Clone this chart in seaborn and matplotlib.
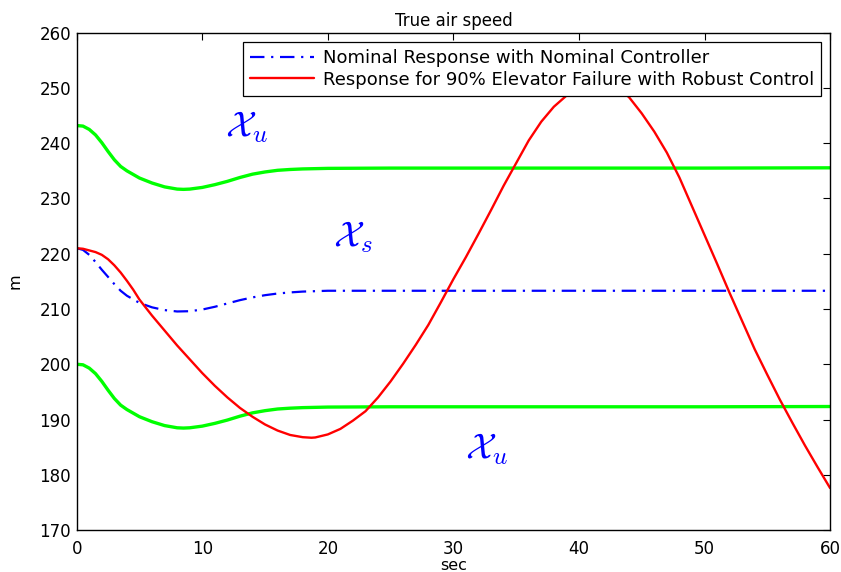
import matplotlib
matplotlib.use("Agg")
import matplotlib.pyplot as plt
import seaborn as sns
import pandas as pd

# ---- data ----
t_green = [0, 0.5, 1, 1.5, 2, 2.5, 3, 3.5, 4, 5, 6, 7, 8, 8.5, 9, 10, 11, 12, 13, 14, 15, 16, 17, 18, 20, 25, 30, 40, 50, 60]
upper_bound = [243.2, 243.1, 242.5, 241.5, 240.1, 238.5, 237.0, 235.8, 235.0, 233.7, 232.8, 232.1, 231.7, 231.65, 231.7,
               232.0, 232.5, 233.1, 233.8, 234.4, 234.8, 235.1, 235.25, 235.35, 235.45, 235.5, 235.5, 235.5, 235.5, 235.55]
lower_bound = [200.0, 199.9, 199.3, 198.3, 196.9, 195.3, 193.8, 192.6, 191.8, 190.5, 189.6, 188.9, 188.5, 188.45, 188.5,
               188.8, 189.3, 189.9, 190.6, 191.2, 191.6, 191.9, 192.05, 192.15, 192.25, 192.3, 192.3, 192.3, 192.3, 192.35]

t_nom = [0, 0.5, 1, 1.5, 2, 2.5, 3, 3.5, 4, 5, 6, 7, 8, 9, 10, 11, 12, 13, 14, 15, 16, 17, 18, 20, 25, 30, 40, 50, 60]
nominal = [221.0, 220.7, 219.8, 218.5, 217.1, 215.8, 214.5, 213.3, 212.4, 211.1, 210.3, 209.8, 209.55, 209.6, 209.9,
           210.4, 211.0, 211.6, 212.1, 212.5, 212.8, 213.0, 213.15, 213.3, 213.3, 213.3, 213.3, 213.3, 213.3]

t_rob = [0, 0.5, 1, 1.5, 2, 2.5, 3, 3.5, 4, 4.5, 5, 6, 7, 8, 9, 10, 11, 12, 13, 14, 15, 16, 17, 18, 18.7, 19, 20, 21,
         22, 23, 24, 25, 26, 27, 28, 29, 30, 31, 32, 33, 34, 35, 36, 37, 38, 39, 39.5, 40, 40.5, 41, 41.5, 42, 42.5,
         43, 43.5, 44, 45, 46, 47, 48, 49, 50, 51, 52, 53, 54, 55, 56, 57, 58, 59, 60]
robust = [221.0, 220.9, 220.6, 220.3, 219.8, 219.0, 217.9, 216.6, 215.1, 213.5, 211.7, 208.8, 206.1, 203.4, 200.9,
          198.4, 196.1, 194.0, 192.1, 190.5, 189.1, 188.0, 187.2, 186.8, 186.7, 186.75, 187.3, 188.3, 189.8, 191.5,
          194.0, 196.9, 200.1, 203.5, 207.1, 211.2, 215.4, 219.4, 223.6, 227.9, 232.3, 236.4, 240.5, 243.9, 246.6,
          248.6, 249.5, 250.3, 250.9, 251.3, 251.4, 251.2, 250.8, 250.2, 249.3, 248.3, 245.4, 242.1, 238.3, 233.8,
          228.6, 223.4, 218.2, 212.9, 207.8, 202.7, 198.1, 193.6, 189.4, 185.3, 181.4, 177.6]

labels = ["Nominal Response with Nominal Controller",
          "Response for 90% Elevator Failure with Robust Control"]
x_ticks = [0, 10, 20, 30, 40, 50, 60]
y_ticks = [170, 180, 190, 200, 210, 220, 230, 240, 250, 260]

sns.set_style("white")
plt.rcParams['font.family'] = ['DejaVu Sans']
plt.rcParams['mathtext.fontset'] = 'cm'
plt.rcParams['text.color'] = 'black'
plt.rcParams['axes.labelcolor'] = 'black'
plt.rcParams['xtick.color'] = 'black'
plt.rcParams['ytick.color'] = 'black'

fig = plt.figure(figsize=(8.41, 5.72), dpi=100)
ax = fig.add_axes([0.0912, 0.0734, 0.8958, 0.8694])

df_g = pd.DataFrame({"t": t_green, "up": upper_bound, "lo": lower_bound})
df_n = pd.DataFrame({"t": t_nom, "v": nominal})
df_r = pd.DataFrame({"t": t_rob, "v": robust})

green = "#00ff00"
sns.lineplot(data=df_g, x="t", y="up", ax=ax, color=green, lw=2.4, legend=False)
sns.lineplot(data=df_g, x="t", y="lo", ax=ax, color=green, lw=2.4, legend=False)
sns.lineplot(data=df_n, x="t", y="v", ax=ax, color="#0000ff", lw=1.6, label=labels[0])
ax.lines[-1].set_dashes((6.5, 3.0, 1.0, 3.0))
sns.lineplot(data=df_r, x="t", y="v", ax=ax, color="#ff0000", lw=1.7, label=labels[1])

ax.set_xlim(0, 60)
ax.set_ylim(170, 260)
ax.set_xticks(x_ticks)
ax.set_yticks(y_ticks)
ax.tick_params(direction="in", length=5, width=0.8, top=True, right=True,
               labelsize=12, colors="black")
ax.tick_params(axis="x", pad=7)
ax.tick_params(axis="y", pad=4)
for s in ax.spines.values():
    s.set_color("black")
    s.set_linewidth(1.0)

ax.set_title("True air speed", fontsize=12, pad=5, color="black")
ax.set_xlabel("sec", fontsize=11.5, labelpad=0)
ax.set_ylabel("m", fontsize=11.5, labelpad=12)

leg = ax.legend(loc="upper right", fontsize=13, frameon=True, fancybox=False,
                edgecolor="black", framealpha=1, borderaxespad=0.5,
                handlelength=3.5, handletextpad=0.5, borderpad=0.4, labelspacing=0.2)
leg.get_frame().set_linewidth(0.9)
leg.set_zorder(10)
for txt in leg.get_texts():
    txt.set_color("black")

ax.text(11.8, 242.8, r"$\mathcal{X}_u$", color="#0000ff", fontsize=26, ha="left", va="center")
ax.text(20.4, 222.9, r"$\mathcal{X}_s$", color="#0000ff", fontsize=26, ha="left", va="center")
ax.text(30.9, 184.5, r"$\mathcal{X}_u$", color="#0000ff", fontsize=26, ha="left", va="center")

fig.savefig("out.png", dpi=100)
